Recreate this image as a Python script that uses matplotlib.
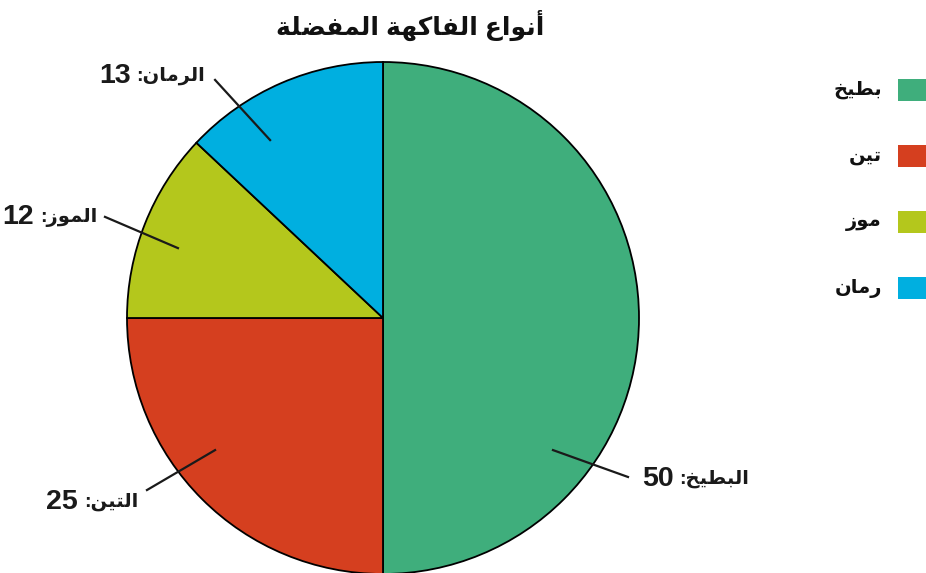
import matplotlib
matplotlib.use("Agg")
import matplotlib.pyplot as plt
from matplotlib.patches import Rectangle

# Daten
fruits = ["البطيخ", "التين", "الموز", "الرمان"]
legend_names = ["بطيخ", "تين", "موز", "رمان"]
values = [50, 25, 12, 13]
colors = ["#3fae7c", "#d53f1f", "#b4c71c", "#00afe0"]
title = "أنواع الفاكهة المفضلة"

# matplotlib kennt keine arabische Formung -> kleine eigene Tabelle
# (isoliert, final, initial, medial)
FORMS = {
    "ا": ("\uFE8D", "\uFE8E", None, None),
    "أ": ("\uFE83", "\uFE84", None, None),
    "ب": ("\uFE8F", "\uFE90", "\uFE91", "\uFE92"),
    "ة": ("\uFE93", "\uFE94", None, None),
    "ت": ("\uFE95", "\uFE96", "\uFE97", "\uFE98"),
    "خ": ("\uFEA5", "\uFEA6", "\uFEA7", "\uFEA8"),
    "ر": ("\uFEAD", "\uFEAE", None, None),
    "ز": ("\uFEAF", "\uFEB0", None, None),
    "ض": ("\uFEBD", "\uFEBE", "\uFEBF", "\uFEC0"),
    "ط": ("\uFEC1", "\uFEC2", "\uFEC3", "\uFEC4"),
    "ع": ("\uFEC9", "\uFECA", "\uFECB", "\uFECC"),
    "ف": ("\uFED1", "\uFED2", "\uFED3", "\uFED4"),
    "ك": ("\uFED9", "\uFEDA", "\uFEDB", "\uFEDC"),
    "ل": ("\uFEDD", "\uFEDE", "\uFEDF", "\uFEE0"),
    "م": ("\uFEE1", "\uFEE2", "\uFEE3", "\uFEE4"),
    "ن": ("\uFEE5", "\uFEE6", "\uFEE7", "\uFEE8"),
    "ه": ("\uFEE9", "\uFEEA", "\uFEEB", "\uFEEC"),
    "و": ("\uFEED", "\uFEEE", None, None),
    "ي": ("\uFEF1", "\uFEF2", "\uFEF3", "\uFEF4"),
}


def ar(text):
    out = []
    for i, c in enumerate(text):
        if c not in FORMS:
            out.append(c)
            continue
        prev = text[i - 1] if i > 0 else ""
        nxt = text[i + 1] if i + 1 < len(text) else ""
        join_prev = prev in FORMS and FORMS[prev][2] is not None
        join_next = nxt in FORMS and FORMS[c][2] is not None
        f = FORMS[c]
        if join_prev and join_next:
            out.append(f[3])
        elif join_prev:
            out.append(f[1])
        elif join_next:
            out.append(f[2])
        else:
            out.append(f[0])
    vis = "".join(out)[::-1]
    # Ziffern wieder in richtige Reihenfolge bringen
    res, run = "", ""
    for c in vis:
        if c.isdigit():
            run += c
        else:
            res += run[::-1] + c
            run = ""
    return res + run[::-1]


plt.rcParams["font.family"] = ["Liberation Sans", "DejaVu Sans"]

fig = plt.figure(figsize=(9.26, 5.73), dpi=100)
ax = fig.add_axes([0, 0, 1, 1])

wedges, _ = ax.pie(values, colors=colors, startangle=90, counterclock=False,
                   wedgeprops=dict(edgecolor="black", linewidth=1.3))

# Achsen so, dass Mittelpunkt bei (383, 318) px und Radius 256 px liegt
ax.set_xlim(-383 / 256, (926 - 383) / 256)
ax.set_ylim(-(573 - 318) / 256, 318 / 256)
ax.set_aspect("equal")
ax.axis("off")

# Beschriftungslinien: innen, aussen, Textanker, Ausrichtung
label_layout = [
    ((0.664, -0.516), (0.957, -0.621), (1.012, -0.628), "left"),
    ((-0.656, -0.516), (-0.922, -0.672), (-0.957, -0.719), "right"),
    ((-0.801, 0.273), (-1.086, 0.395), (-1.117, 0.394), "right"),
    ((-0.441, 0.695), (-0.656, 0.930), (-0.695, 0.945), "right"),
]

num_style = dict(fontsize=20.5, fontweight="bold", color="#1a1a1a", va="center")
ar_style = dict(fontsize=14, fontweight="bold", color="#1a1a1a", va="center")

for name, val, (p_in, p_out, p_txt, ha) in zip(fruits, values, label_layout):
    ax.plot([p_in[0], p_out[0]], [p_in[1], p_out[1]], color="#1a1a1a", lw=1.6)
    if ha == "left":
        t = ax.text(p_txt[0], p_txt[1], str(val), ha="left", **num_style)
        ax.annotate(ar(name + ":"), xy=(1, 0.5), xycoords=t, xytext=(4, 0),
                    textcoords="offset points", ha="left", **ar_style)
    else:
        t = ax.text(p_txt[0], p_txt[1], ar(name + ":"), ha="right", **ar_style)
        ax.annotate(str(val), xy=(0, 0.5), xycoords=t, xytext=(-4, 0),
                    textcoords="offset points", ha="right", **num_style)

fig.text(410 / 926, 1 - 25 / 573, ar(title), ha="center", va="center",
         fontsize=18, fontweight="bold", color="#111111")

# Legende rechts (Quadrate laufen über den Rand hinaus)
for i, (name, col) in enumerate(zip(legend_names, colors)):
    yc = 90 + i * 66
    fig.add_artist(Rectangle((898 / 926, 1 - (yc + 11) / 573), 30 / 926, 22 / 573,
                             transform=fig.transFigure, facecolor=col, edgecolor="none"))
    fig.text(882 / 926, 1 - yc / 573, ar(name), ha="right", va="center",
             fontsize=14, fontweight="bold", color="#111111")

fig.savefig("out.png", dpi=100)
